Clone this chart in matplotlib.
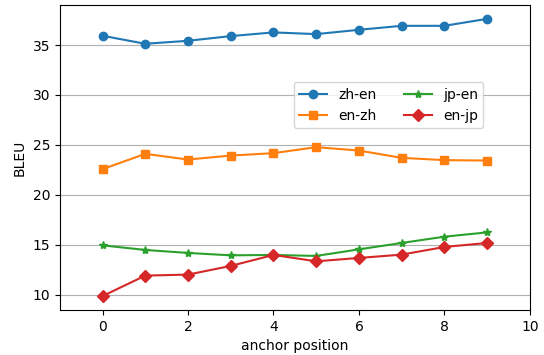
import matplotlib
matplotlib.use("Agg")
import matplotlib.pyplot as plt

positions = list(range(10))
zh_en = [35.93, 35.13, 35.43, 35.9, 36.27, 36.1, 36.53, 36.93, 36.93, 37.63]
en_zh = [22.57, 24.1, 23.53, 23.93, 24.17, 24.77, 24.43, 23.7, 23.47, 23.43]
jp_en = [14.93, 14.47, 14.17, 13.93, 13.97, 13.87, 14.53, 15.17, 15.8, 16.23]
en_jp = [9.85, 11.9, 12.0, 12.87, 13.97, 13.33, 13.67, 14.0, 14.77, 15.17]

fig = plt.figure(figsize=(5.44, 3.55), dpi=100)
ax = fig.add_axes([0.11, 0.127, 0.864, 0.859])

ax.plot(positions, zh_en, marker='o', label='zh-en')
ax.plot(positions, en_zh, marker='s', label='en-zh')
ax.plot(positions, jp_en, marker='*', label='jp-en')
ax.plot(positions, en_jp, marker='D', label='en-jp')

ax.set_xlim(-1, 10)
ax.set_xticks([0, 2, 4, 6, 8, 10])
ax.grid(axis='y')
ax.set_xlabel('anchor position')
ax.set_ylabel('BLEU')
ax.legend(ncol=2, loc='upper right', bbox_to_anchor=(0.916, 0.77))

fig.savefig('out.png')
